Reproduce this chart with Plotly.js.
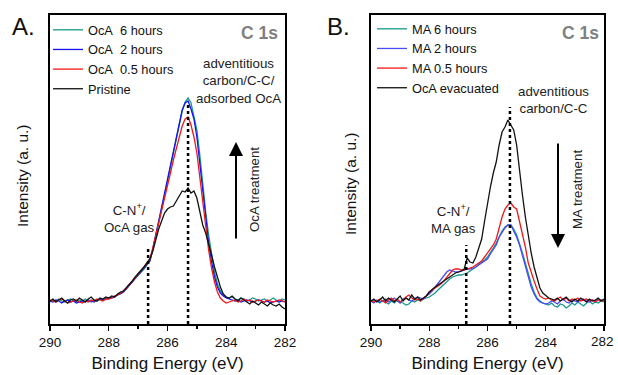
<!DOCTYPE html>
<html>
<head>
<meta charset="utf-8">
<script src="https://cdn.plot.ly/plotly-3.0.1.min.js"></script>
<style>html,body{margin:0;padding:0;background:#fff;overflow:hidden;}#chart{width:618px;height:375px;}</style>
</head>
<body>
<div id="chart"></div>
<script>
// Binding energy grid (eV)
const energy = [290.0,289.9,289.8,289.7,289.6,289.5,289.4,289.3,289.2,289.1,
289.0,288.9,288.8,288.7,288.6,288.5,288.4,288.3,288.2,288.1,
288.0,287.9,287.8,287.7,287.6,287.5,287.4,287.3,287.2,287.1,
287.0,286.9,286.8,286.7,286.6,286.5,286.4,286.3,286.2,286.1,
286.0,285.9,285.8,285.7,285.6,285.5,285.4,285.3,285.2,285.1,
285.0,284.9,284.8,284.7,284.6,284.5,284.4,284.3,284.2,284.1,
284.0,283.9,283.8,283.7,283.6,283.5,283.4,283.3,283.2,283.1,
283.0,282.9,282.8,282.7,282.6,282.5,282.4,282.3,282.2,282.1,282.0];

// Panel A series (a.u.)
const ocA6h = [23,25,24,26,24,23,25,26,24,23,25,24,26,24,23,25,24,26,25,27,
27,28,29,30,32,34,36,40,43,46,50,53,56,60,64,75,88,102,116,130,
144,158,173,187,201,214,223,227,222,210,195,170,140,113,90,70,53,41,34,30,
28,27,28,26,25,27,26,24,25,27,26,24,25,26,24,25,27,25,24,26,25];
const ocA2h = [24,23,25,24,22,24,25,23,24,22,23,24,23,25,24,23,25,26,25,26,
27,27,28,30,31,33,36,39,43,47,50,53,57,61,64,76,90,104,118,132,
146,160,175,189,203,215,222,224,216,206,188,162,131,104,82,63,48,38,32,29,
27,26,25,24,25,23,24,25,24,23,24,25,24,23,24,22,23,24,23,24,23];
const ocA05h = [25,24,23,25,26,24,22,23,24,25,23,22,24,23,25,24,26,25,24,26,
26,27,29,30,32,34,37,40,44,47,51,54,58,62,66,77,89,102,115,128,
140,152,165,177,189,199,206,208,200,188,172,147,120,96,75,57,43,33,27,24,
22,23,24,25,23,24,26,24,25,23,24,25,24,23,25,24,23,24,25,24,23];
const pristine = [24,26,23,25,27,24,22,25,26,24,27,25,23,26,28,25,24,27,26,28,
27,29,28,31,33,34,37,41,44,48,51,55,58,62,66,74,86,96,104,112,
116,118,119,124,129,134,133,137,132,134,127,113,100,92,82,70,58,47,38,31,
28,27,29,26,24,27,25,23,21,24,22,20,23,21,19,22,20,19,21,18,16];

// Panel B series (a.u.)
const ma6h = [23,25,24,22,24,23,21,24,22,25,23,22,20,21,24,23,25,24,26,27,
28,30,32,35,38,41,44,46,48,49,50,50,51,52,54,56,58,61,63,65,
68,72,77,82,88,94,98,100,100,96,90,82,72,62,51,41,33,27,24,22,
21,20,22,19,18,21,20,17,19,22,20,23,21,19,22,24,21,23,22,24,23];
const ma2h = [24,22,25,23,24,26,23,25,27,24,22,26,27,25,24,26,28,27,26,29,
31,34,38,42,45,49,53,55,54,53,53,54,55,56,56,57,58,60,62,64,
66,71,76,80,88,93,97,100,100,94,88,80,70,60,48,38,31,26,23,22,
21,22,24,23,21,24,26,23,22,25,24,23,25,26,24,23,25,24,26,25,24];
const ma05h = [25,23,24,26,24,22,25,27,24,26,23,25,28,30,27,25,26,24,27,29,
33,35,37,39,41,44,48,52,55,56,56,55,55,56,57,58,60,62,64,68,
72,76,80,86,98,108,116,120,122,118,116,104,93,78,62,52,44,36,29,27,
26,27,25,24,26,28,25,27,24,26,25,27,24,25,26,24,25,23,25,24,25];
const ocAEvac = [24,26,23,25,28,24,27,25,23,26,29,24,27,25,30,26,28,25,27,29,
33,36,38,40,42,44,46,48,50,52,53,54,56,67,63,62,68,76,86,104,
122,138,152,163,180,193,198,205,200,195,180,152,130,108,88,72,58,46,37,32,
29,27,26,25,27,24,26,28,25,23,26,24,27,25,23,26,24,25,27,24,26];

// Legend labels
const namesA = ['OcA\u00a0\u00a06 hours','OcA\u00a0\u00a02 hours','OcA\u00a0\u00a00.5 hours','Pristine'];
const namesB = ['MA 6 hours','MA 2 hours','MA 0.5 hours','OcA evacuated'];
const xTicks = [290,288,286,284,282];
const xMinorTicks = [289,287,285,283];

const colorsA = ['#15998a','#1414f0','#f01818','#111111'];
const colorsB = ['#15998a','#4a4af5','#f01818','#111111'];

const seriesA = [ocA6h, ocA2h, ocA05h, pristine];
const seriesB = [ma6h, ma2h, ma05h, ocAEvac];

const traces = [];
seriesA.forEach((s,i)=>traces.push({x:energy,y:s,type:'scatter',mode:'lines',name:namesA[i],
  line:{color:colorsA[i],width:1.3},xaxis:'x',yaxis:'y',legend:'legend'}));
seriesB.forEach((s,i)=>traces.push({x:energy,y:s,type:'scatter',mode:'lines',name:namesB[i],
  line:{color:colorsB[i],width:1.3},xaxis:'x2',yaxis:'y2',legend:'legend2'}));

const W=618,H=375;
const px = v=>v/W, py = v=>1-v/H;
const FONT = 'Liberation Sans, Arial, sans-serif';
const tickFont = {family:FONT,size:13.5,color:'#111'};

function xax(dom){
  return {domain:dom,range:[290,282],showline:true,linecolor:'#000',linewidth:1.6,mirror:true,
    ticks:'outside',ticklen:5,tickwidth:1.4,tickcolor:'#000',tickvals:xTicks,
    ticktext:xTicks.map(String),ticklabeloverflow:'allow',
    minor:{tickvals:xMinorTicks,ticks:'outside',ticklen:3,tickwidth:1.4,tickcolor:'#000'},
    showgrid:false,zeroline:false,tickfont:tickFont,
    title:{text:'Binding Energy (eV)',font:{family:FONT,size:17,color:'#111'},standoff:8}};
}
function yax(dom){
  return {domain:dom,range:[1,310],showline:true,linecolor:'#000',linewidth:1.6,mirror:true,
    ticks:'',showticklabels:false,showgrid:false,zeroline:false};
}

const dot = (xr,yr,x,y1)=>({type:'line',xref:xr,yref:yr,x0:x,x1:x,y0:1,y1:y1,
  line:{color:'#000',width:2.5,dash:'dot'}});

const txt = (x,y,text,opt={})=>Object.assign({xref:'paper',yref:'paper',x:px(x),y:py(y),
  text:text,showarrow:false,xanchor:'center',yanchor:'middle',
  font:{family:FONT,size:13.3,color:'#222'}},opt);

const legFont = {family:FONT,size:12.8,color:'#111'};

// panel B: right-edge tick label drawn as a right-anchored paper annotation
const x2 = Object.assign(xax([px(371),px(604)]),{anchor:'y2'});
x2.ticktext = xTicks.map((v,i)=>i===xTicks.length-1?'':String(v));

const layout = {
  width:W,height:H,margin:{l:0,r:0,t:0,b:0},paper_bgcolor:'#fff',plot_bgcolor:'#fff',
  showlegend:true,
  xaxis:xax([px(50),px(285)]),yaxis:yax([py(324),py(15)]),
  xaxis2:x2,
  yaxis2:Object.assign(yax([py(324),py(15)]),{anchor:'x2'}),
  legend:{x:px(48),y:py(15),xanchor:'left',yanchor:'top',bgcolor:'rgba(0,0,0,0)',
    font:legFont,tracegroupgap:0},
  legend2:{x:px(372),y:py(14),xanchor:'left',yanchor:'top',bgcolor:'rgba(0,0,0,0)',
    font:legFont,tracegroupgap:0},
  shapes:[dot('x','y',286.66,78),dot('x','y',285.3,221),dot('x2','y2',286.73,80),dot('x2','y2',285.23,218)],
  annotations:[
    txt(616,341,String(xTicks[xTicks.length-1]),{font:tickFont,xanchor:'right'}),
    txt(24,27,'A.',{font:{family:FONT,size:24,color:'#111'}}),
    txt(338,27,'B.',{font:{family:FONT,size:24,color:'#111'}}),
    txt(259,33,'<b>C 1s</b>',{font:{family:FONT,size:17.5,color:'#808080'}}),
    txt(580,33,'<b>C 1s</b>',{font:{family:FONT,size:17.5,color:'#808080'}}),
    txt(238,81,'adventitious<br>carbon/C-C/<br>adsorbed OcA'),
    txt(553,100,'adventitious<br>carbon/C-C'),
    txt(129,218,'C-N<sup>+</sup>/<br>OcA gas'),
    txt(453,219,'C-N<sup>+</sup>/<br>MA gas'),
    txt(254,190,'OcA treatment',{textangle:-90}),
    txt(577,190,'MA treatment',{textangle:-90}),
    txt(22,176,'Intensity (a. u.)',{textangle:-90,font:{family:FONT,size:15.5,color:'#111'}}),
    txt(351,184,'Intensity (a. u.)',{textangle:-90,font:{family:FONT,size:15.5,color:'#111'}}),
    {xref:'paper',yref:'paper',x:px(236),y:py(142),ax:0,ay:98,text:'',showarrow:true,
      arrowhead:2,arrowsize:1.4,arrowwidth:2,arrowcolor:'#000'},
    {xref:'paper',yref:'paper',x:px(558),y:py(248),ax:0,ay:-106,text:'',showarrow:true,
      arrowhead:2,arrowsize:1.4,arrowwidth:2,arrowcolor:'#000'}
  ]
};

Plotly.newPlot('chart',traces,layout,{displayModeBar:false,staticPlot:true});
</script>
</body>
</html>
